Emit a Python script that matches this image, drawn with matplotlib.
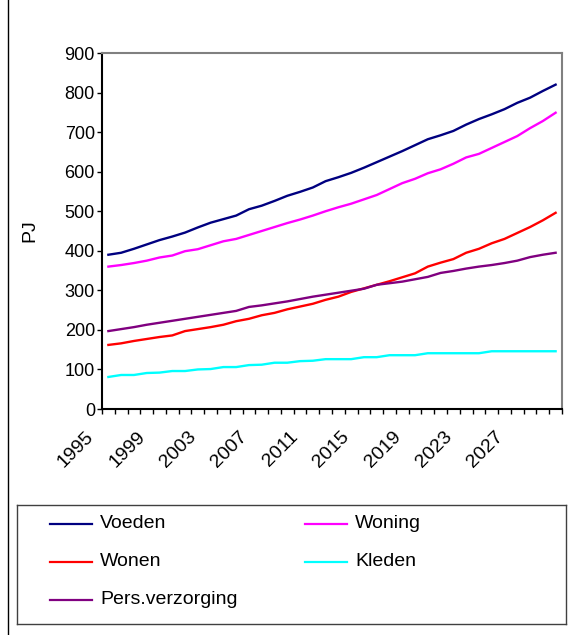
import numpy as np
import matplotlib
matplotlib.use("Agg")
import matplotlib.pyplot as plt
from matplotlib.transforms import ScaledTranslation
from matplotlib.lines import Line2D

plt.rcParams['font.family'] = ['Liberation Sans', 'DejaVu Sans']

years = list(range(1995, 2031))

voeden = [390, 395, 405, 416, 427, 436, 446, 459, 471, 480, 489, 505,
          514, 526, 539, 549, 560, 576, 586, 597, 610, 624, 638, 652,
          667, 682, 692, 703, 719, 733, 745, 758, 774, 787, 804, 820]
woning = [360, 364, 369, 375, 383, 388, 399, 404, 414, 424, 430, 440,
          450, 460, 470, 479, 489, 500, 510, 519, 530, 541, 556, 571,
          582, 596, 606, 620, 636, 645, 660, 675, 690, 710, 728, 749]
wonen = [162, 166, 172, 177, 182, 186, 197, 202, 207, 213, 222, 228,
         237, 243, 252, 259, 266, 276, 284, 296, 305, 314, 323, 333,
         343, 360, 370, 379, 395, 405, 419, 430, 445, 460, 477, 496]
kleden = [81, 86, 86, 91, 92, 96, 96, 100, 101, 106, 106, 111,
          112, 117, 117, 121, 122, 126, 126, 126, 131, 131, 136, 136,
          136, 141, 141, 141, 141, 141, 146, 146, 146, 146, 146, 146]
pers_verzorging = [197, 202, 207, 213, 218, 223, 228, 233, 238, 243, 248, 258,
                   262, 267, 272, 278, 284, 289, 294, 299, 304, 314, 318, 322,
                   328, 334, 344, 349, 355, 360, 364, 369, 375, 384, 390, 395]

series = [
    ("Voeden", voeden, "#000080"),
    ("Woning", woning, "#FF00FF"),
    ("Wonen", wonen, "#FF0000"),
    ("Kleden", kleden, "#00FFFF"),
    ("Pers.verzorging", pers_verzorging, "#800080"),
]

W, H = 577, 635
fig = plt.figure(figsize=(W / 100, H / 100), dpi=100)
fig.patch.set_facecolor("white")

# plot area in pixel terms
left, right, top, bottom = 102, 562, 53, 409
ax = fig.add_axes([left / W, 1 - bottom / H, (right - left) / W, (bottom - top) / H])

x = np.arange(len(years))
for name, vals, col in series:
    ax.plot(x, vals, color=col, lw=1.7, solid_joinstyle="round")

ax.set_xlim(-0.5, len(years) - 0.5)
ax.set_ylim(0, 900)
ax.set_yticks(range(0, 901, 100))

fs_y = 13
fs = 14
ax.tick_params(axis="y", direction="out", length=3.6, width=1, labelsize=fs_y, pad=1.5)

# labels every 4th year at the category centres, ticks on the boundaries
lab_idx = list(range(0, len(years), 4))
ax.set_xticks(lab_idx)
ax.set_xticklabels([str(years[i]) for i in lab_idx], rotation=45, ha="right", va="top",
                   fontsize=fs)
ax.set_xticks(np.arange(-0.5, len(years), 1.0), minor=True)
ax.tick_params(axis="x", which="major", length=0, pad=14)
ax.tick_params(axis="x", which="minor", direction="out", length=3.6, width=1)
shift = ScaledTranslation(-11 / 100, 0, fig.dpi_scale_trans)
for lab in ax.get_xticklabels():
    lab.set_transform(lab.get_transform() + shift)

for s in ("top", "right"):
    ax.spines[s].set_color("#808080")
    ax.spines[s].set_linewidth(1.5)
for s in ("left", "bottom"):
    ax.spines[s].set_color("black")
    ax.spines[s].set_linewidth(1.5)

ax.set_ylabel("PJ", fontsize=fs)
ax.yaxis.set_label_coords((38 - left) / (right - left), 0.5)

# legend box
lx0, lx1, ly0, ly1 = 17, 566, 505, 624
lax = fig.add_axes([lx0 / W, 1 - ly1 / H, (lx1 - lx0) / W, (ly1 - ly0) / H])
lax.set_xlim(lx0, lx1)
lax.set_ylim(ly1, ly0)
lax.set_xticks([])
lax.set_yticks([])
for s in lax.spines.values():
    s.set_color("#404040")
    s.set_linewidth(1.0)

col_x = [50, 305]
row_y = [524, 562, 600]
order = [(0, 0), (0, 1), (1, 0), (1, 1), (2, 0)]
for (r, c), (name, vals, col) in zip(order, series):
    lx = col_x[c]
    ly = row_y[r]
    lax.add_line(Line2D([lx, lx + 42], [ly, ly], color=col, lw=1.6))
    lax.text(lx + 50, ly, name, fontsize=fs, va="center", ha="left")

# outer frame line
fig.add_artist(Line2D([7.5 / W, 7.5 / W], [0, 1], color="black", lw=1.0,
                      transform=fig.transFigure))

fig.savefig("out.png", dpi=100)
